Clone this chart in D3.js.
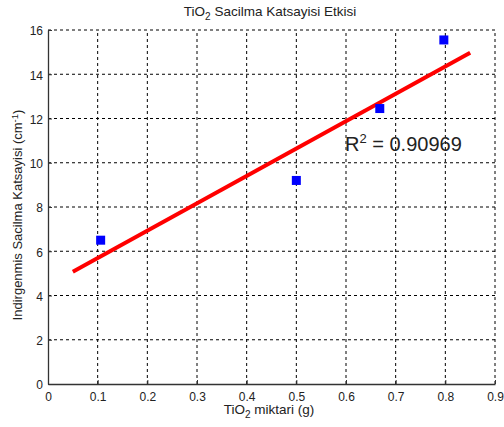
<!DOCTYPE html>
<html>
<head>
<meta charset="utf-8">
<script src="https://cdn.jsdelivr.net/npm/d3@7"></script>
<style>
  body { margin: 0; background: #fff; }
  text { font-family: "Liberation Sans", Arial, sans-serif; fill: #222; }
</style>
</head>
<body>
<div id="viz-container"></div>
<script>
const width = 504, height = 427;

// donnees
const tioAmount = [0.106, 0.5, 0.668, 0.797];
const scattering = [6.5, 9.2, 12.45, 15.55];
const fitX = [0.05, 0.85];
const fitY = [5.07, 14.97];
const xTicks = [0, 0.1, 0.2, 0.3, 0.4, 0.5, 0.6, 0.7, 0.8, 0.9];
const yTicks = [0, 2, 4, 6, 8, 10, 12, 14, 16];
const r2Label = "0.90969";

const margin = {top: 30, right: 9, bottom: 43, left: 48};

const svg = d3.select("#viz-container")
  .append("svg")
  .attr("width", width)
  .attr("height", height);

const x = d3.scaleLinear().domain([0, 0.9]).range([margin.left, width - margin.right]);
const y = d3.scaleLinear().domain([0, 16]).range([height - margin.bottom, margin.top]);

// Grille en pointillés
svg.append("g")
  .selectAll("line")
  .data(xTicks.slice(1))
  .join("line")
  .attr("x1", d => x(d)).attr("x2", d => x(d))
  .attr("y1", y(0)).attr("y2", y(16))
  .attr("stroke", "#000")
  .attr("stroke-width", 1)
  .attr("stroke-dasharray", "3,3");

svg.append("g")
  .selectAll("line")
  .data(yTicks.slice(1))
  .join("line")
  .attr("x1", x(0)).attr("x2", x(0.9))
  .attr("y1", d => y(d)).attr("y2", d => y(d))
  .attr("stroke", "#000")
  .attr("stroke-width", 1)
  .attr("stroke-dasharray", "3,3");

// Axes
const xAxis = svg.append("g")
  .attr("transform", `translate(0,${y(0)})`)
  .call(d3.axisBottom(x).tickValues(xTicks).tickSizeInner(-4).tickSizeOuter(0).tickPadding(8)
    .tickFormat(d => d === 0 ? "0" : d3.format(".1f")(d)));
const yAxis = svg.append("g")
  .attr("transform", `translate(${x(0)},0)`)
  .call(d3.axisLeft(y).tickValues(yTicks).tickSizeInner(-4).tickSizeOuter(0).tickPadding(5));

[xAxis, yAxis].forEach(g => {
  g.select(".domain").attr("stroke", "#333").attr("stroke-width", 1.3);
  g.selectAll(".tick line").attr("stroke", "#333");
  g.selectAll(".tick text").style("font-size", "12px").attr("fill", "#222");
});
yAxis.selectAll(".tick text").attr("dy", "0.4em");

// Droite de regression
svg.append("line")
  .attr("x1", x(fitX[0])).attr("y1", y(fitY[0]))
  .attr("x2", x(fitX[1])).attr("y2", y(fitY[1]))
  .attr("stroke", "#ff0000")
  .attr("stroke-width", 4);

// Points
svg.selectAll("rect.pt")
  .data(tioAmount.map((d, i) => ({x: d, y: scattering[i]})))
  .join("rect")
  .attr("class", "pt")
  .attr("x", d => x(d.x) - 4.5)
  .attr("y", d => y(d.y) - 4.5)
  .attr("width", 9)
  .attr("height", 9)
  .attr("fill", "#0000ff");

// R2
const r2 = svg.append("text")
  .attr("x", 345)
  .attr("y", 151)
  .style("font-size", "20px");
r2.append("tspan").text("R");
r2.append("tspan").attr("dy", -8).style("font-size", "13px").text("2");
r2.append("tspan").attr("dy", 8).text(" = " + r2Label);

// Titre
const title = svg.append("text")
  .attr("x", 270)
  .attr("y", 16)
  .attr("text-anchor", "middle")
  .style("font-size", "13.5px");
title.append("tspan").text("TiO");
title.append("tspan").attr("dy", 4).style("font-size", "10px").text("2");
title.append("tspan").attr("dy", -4).text(" Sacilma Katsayisi Etkisi");

// Labels
const xLabel = svg.append("text")
  .attr("x", 269)
  .attr("y", 414)
  .attr("text-anchor", "middle")
  .style("font-size", "13.5px");
xLabel.append("tspan").text("TiO");
xLabel.append("tspan").attr("dy", 4).style("font-size", "10px").text("2");
xLabel.append("tspan").attr("dy", -4).text(" miktari (g)");

const yLabel = svg.append("text")
  .attr("transform", `translate(22,215) rotate(-90)`)
  .attr("text-anchor", "middle")
  .style("font-size", "13px");
yLabel.append("tspan").text("Indirgenmis Sacilma Katsayisi (cm");
yLabel.append("tspan").attr("dy", -4).style("font-size", "9.5px").text("-1");
yLabel.append("tspan").attr("dy", 4).text(")");
</script>
</body>
</html>
